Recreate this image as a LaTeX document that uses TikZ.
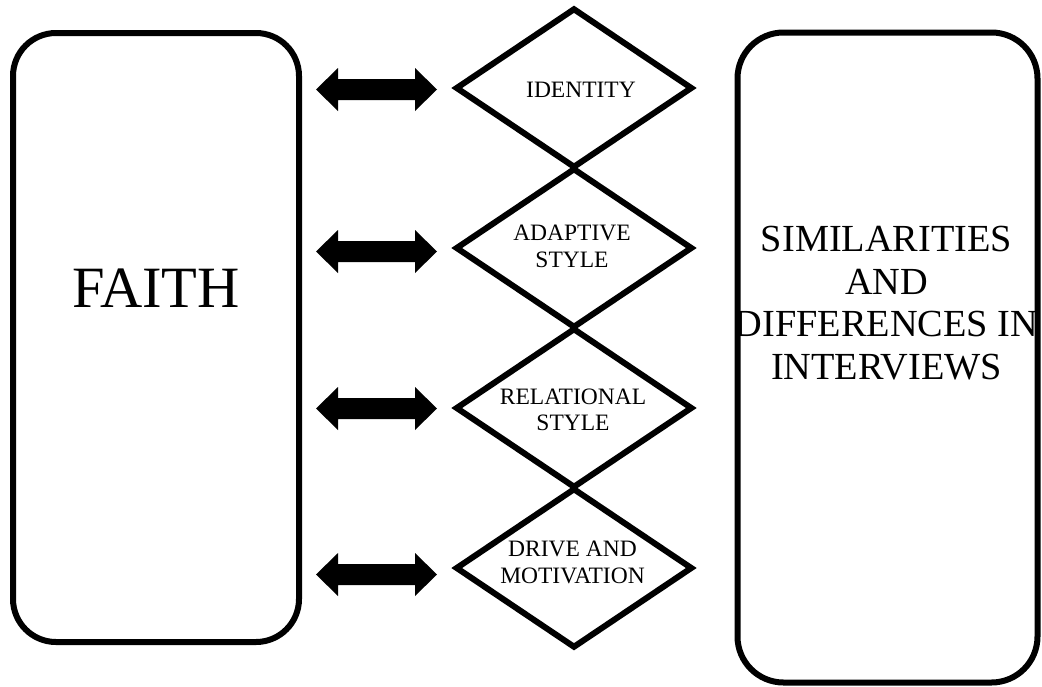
\documentclass[tikz,border=0pt]{standalone}
\usepackage{fontspec}
\setmainfont{Liberation Serif}
\usetikzlibrary{shapes.geometric}
\tikzset{
  roundbox/.style={draw, line width=6pt, rounded corners=#1, inner sep=0pt},
  diam/.style={draw, diamond, line width=6pt, aspect=1.5, inner sep=0pt,
    minimum width=237pt, minimum height=160pt},
  bigtxt/.style={inner sep=0pt, font=\fontsize{58.5}{68}\selectfont},
  sidetxt/.style={inner sep=0pt, align=center, font=\fontsize{38.3}{42.7}\selectfont},
  smalltxt/.style={inner sep=0pt, align=center, font=\fontsize{23.5}{26.5}\selectfont},
  blockarrow/.pic={
    \fill (-60.5,0) -- (-38.5,-21.5) -- (-38.5,-10.5) -- (38.5,-10.5) -- (38.5,-21.5)
      -- (60.5,0) -- (38.5,21.5) -- (38.5,10.5) -- (-38.5,10.5) -- (-38.5,21.5) -- cycle;
  }
}
\begin{document}
\begin{tikzpicture}[x=1pt,y=-1pt]
\useasboundingbox (0,0) rectangle (1042,686);
% big boxes
\node[roundbox=43pt, minimum width=286pt, minimum height=609pt] (faithbox) at (156,337.5) {};
\node[roundbox=46pt, minimum width=300pt, minimum height=650pt] (simbox) at (887.5,357.5) {};
\node[bigtxt, anchor=base] (faith) at (156,307) {FAITH};
\node[sidetxt] (sim) at (886.5,303) {SIMILARITIES\\AND\\DIFFERENCES IN\\INTERVIEWS};
% diamonds
\node[diam] (d1) at (574,88) {};
\node[diam] (d2) at (574,248) {};
\node[diam] (d3) at (574,408) {};
\node[diam] (d4) at (574,568) {};
\node[smalltxt, anchor=base] (t1) at (581,97) {IDENTITY};
\node[smalltxt] (t2) at (572,246.3) {ADAPTIVE\\STYLE};
\node[smalltxt] (t3) at (573,409.8) {RELATIONAL\\STYLE};
\node[smalltxt] (t4) at (572.5,562.3) {DRIVE AND\\MOTIVATION};
% block arrows
\pic at (376.5,89.5) {blockarrow};
\pic at (376.5,251.5) {blockarrow};
\pic at (376.5,408.5) {blockarrow};
\pic at (376.5,574.5) {blockarrow};
\end{tikzpicture}
\end{document}
